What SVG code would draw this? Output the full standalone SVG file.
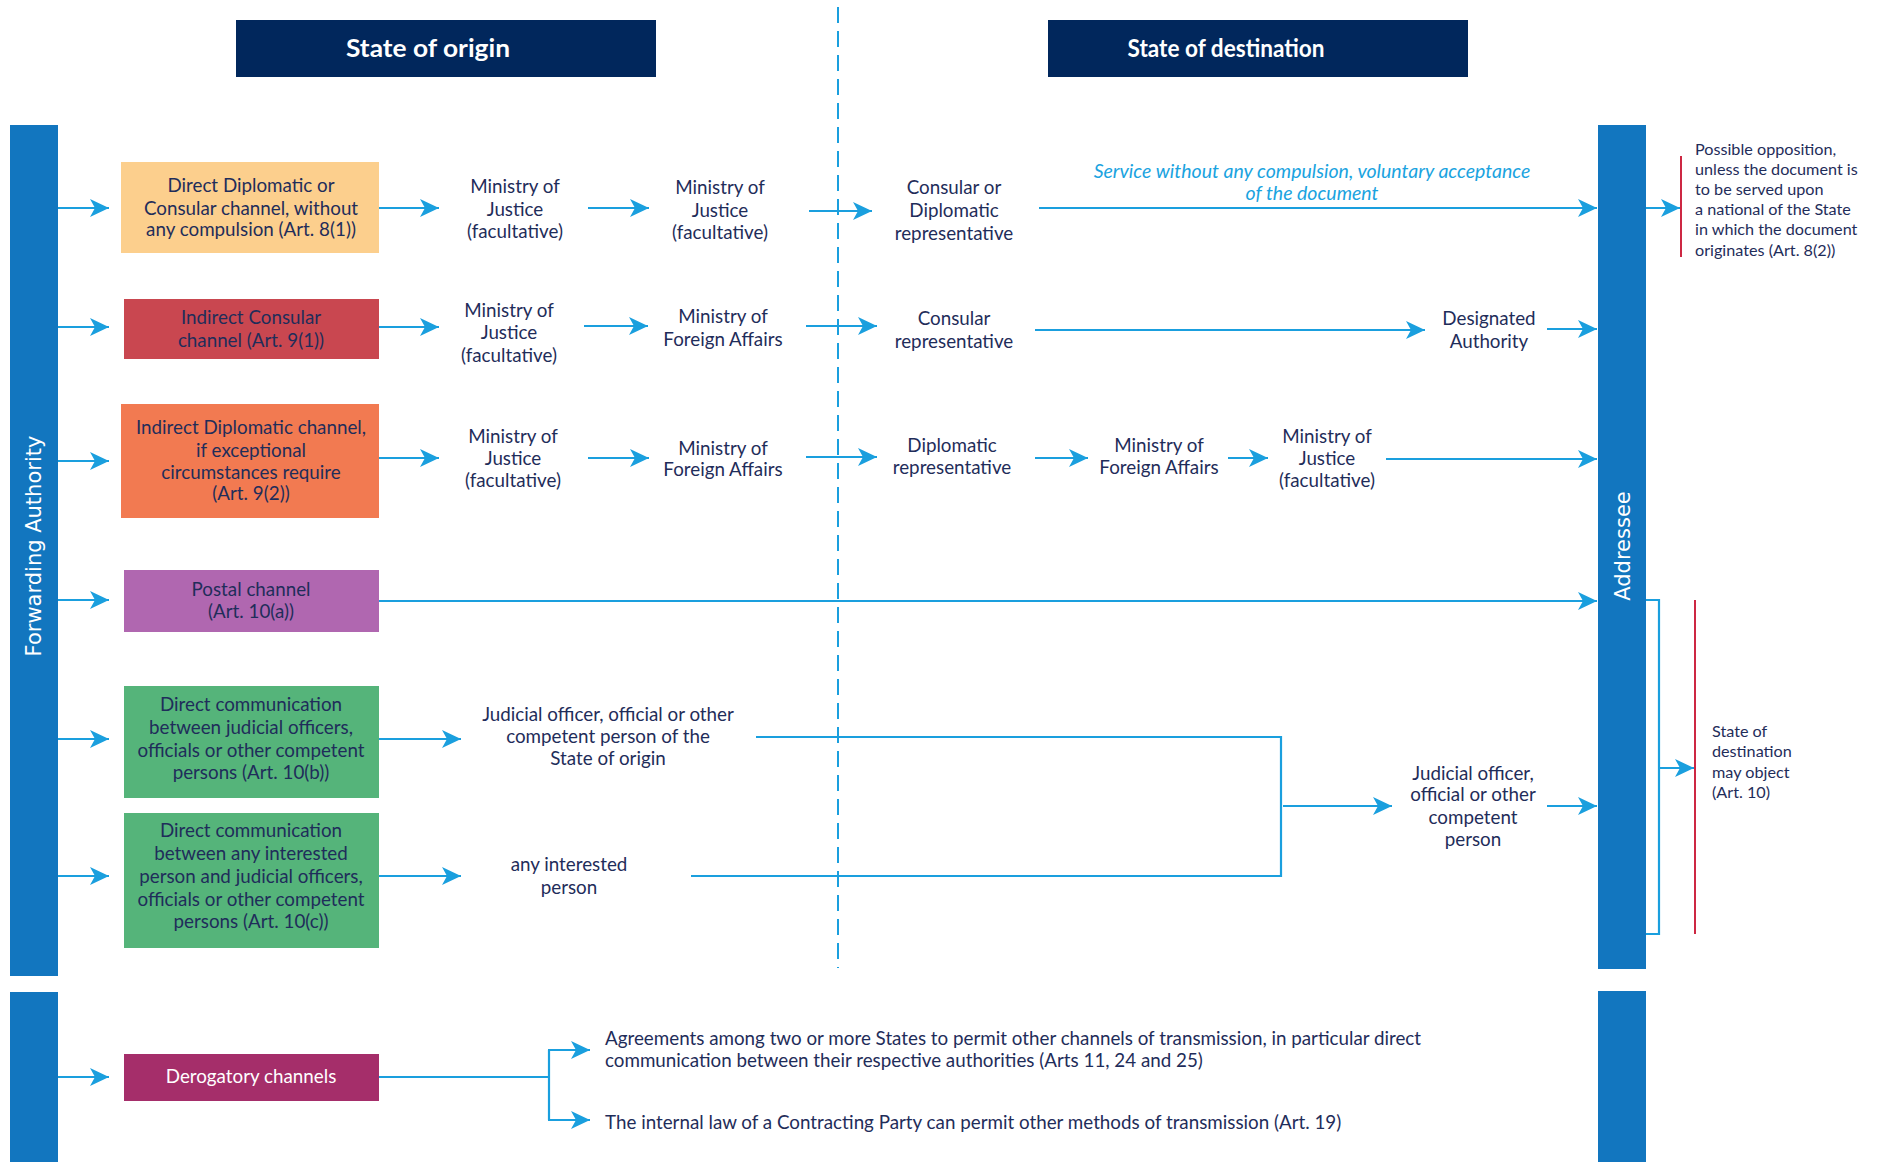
<svg xmlns="http://www.w3.org/2000/svg" width="1881" height="1162" viewBox="0 0 1881 1162">
<style>
  .t{font-family:Lato,"Liberation Sans",sans-serif;font-size:18.8px;fill:#1f2d5a;text-anchor:middle}
  .tl{font-family:Lato,"Liberation Sans",sans-serif;font-size:18.8px;fill:#1f2d5a}
  .ts{font-family:Lato,"Liberation Sans",sans-serif;font-size:16.2px;fill:#1f2d5a}
  .tw{font-family:Lato,"Liberation Sans",sans-serif;font-size:18.8px;fill:#ffffff;text-anchor:middle}
  .hd{font-family:Lato,"Liberation Sans",sans-serif;font-size:25px;font-weight:bold;fill:#ffffff;text-anchor:middle}
  .bar{fill:#1276bf}
  .bt{font-family:"DejaVu Sans","Liberation Sans",sans-serif;font-size:21px;fill:#ffffff;text-anchor:middle}
  .it{font-family:Lato,"Liberation Sans",sans-serif;font-size:19.5px;font-style:italic;fill:#1aa3e0;text-anchor:middle}
  .c{fill:none;stroke:#1a9fde;stroke-width:2.2}
  .a{fill:none;stroke:#1a9fde;stroke-width:2.2;marker-end:url(#ah)}
  .red{stroke:#c8102e;stroke-width:1.8}
</style>
<defs>
  <marker id="ah" markerUnits="userSpaceOnUse" markerWidth="20" markerHeight="18" refX="19" refY="9" orient="auto">
    <path d="M0,0 L19,9 L0,18 L5,9 z" fill="#1a9fde"/>
  </marker>
</defs>
<rect width="1881" height="1162" fill="#ffffff"/>

<g id="header-origin">
  <rect x="236" y="20" width="420" height="57" fill="#01275c"/>
  <text class="hd" x="428" y="57" textLength="164" lengthAdjust="spacingAndGlyphs">State of origin</text>
</g>
<g id="header-destination">
  <rect x="1048" y="20" width="420" height="57" fill="#01275c"/>
  <text class="hd" x="1226" y="57" textLength="197" lengthAdjust="spacingAndGlyphs">State of destination</text>
</g>

<line id="divider" x1="838" y1="7" x2="838" y2="968" stroke="#1a9fde" stroke-width="2" stroke-dasharray="16,8"/>

<g id="forwarding-authority">
  <rect class="bar" x="10" y="125" width="48" height="851"/>
  <text class="bt" transform="translate(41,546) rotate(-90)">Forwarding Authority</text>
</g>
<g id="forwarding-lower">
  <rect class="bar" x="10" y="992" width="48" height="170"/>
</g>
<g id="addressee">
  <rect class="bar" x="1598" y="125" width="48" height="844"/>
  <text class="bt" transform="translate(1630,546) rotate(-90)">Addressee</text>
</g>
<g id="addressee-lower">
  <rect class="bar" x="1598" y="991" width="48" height="171"/>
</g>

<g id="box-direct-diplomatic">
  <rect x="121" y="162" width="258" height="91" fill="#fccf8d"/>
  <text class="t" x="251" y="192">Direct Diplomatic or</text>
  <text class="t" x="251" y="215">Consular channel, without</text>
  <text class="t" x="251" y="236">any compulsion (Art. 8(1))</text>
</g>
<g id="box-indirect-consular">
  <rect x="124" y="299" width="255" height="60" fill="#c94750"/>
  <text class="t" x="251" y="324">Indirect Consular</text>
  <text class="t" x="251" y="347">channel (Art. 9(1))</text>
</g>
<g id="box-indirect-diplomatic">
  <rect x="121" y="404" width="258" height="114" fill="#f27a51"/>
  <text class="t" x="251" y="434">Indirect Diplomatic channel,</text>
  <text class="t" x="251" y="457">if exceptional</text>
  <text class="t" x="251" y="479">circumstances require</text>
  <text class="t" x="251" y="500">(Art. 9(2))</text>
</g>
<g id="box-postal">
  <rect x="124" y="570" width="255" height="62" fill="#b067b0"/>
  <text class="t" x="251" y="596">Postal channel</text>
  <text class="t" x="251" y="618">(Art. 10(a))</text>
</g>
<g id="box-direct-judicial">
  <rect x="124" y="686" width="255" height="112" fill="#55b47a"/>
  <text class="t" x="251" y="711">Direct communication</text>
  <text class="t" x="251" y="734">between judicial officers,</text>
  <text class="t" x="251" y="757">officials or other competent</text>
  <text class="t" x="251" y="779">persons (Art. 10(b))</text>
</g>
<g id="box-direct-interested">
  <rect x="124" y="813" width="255" height="135" fill="#55b47a"/>
  <text class="t" x="251" y="837">Direct communication</text>
  <text class="t" x="251" y="860">between any interested</text>
  <text class="t" x="251" y="883">person and judicial officers,</text>
  <text class="t" x="251" y="906">officials or other competent</text>
  <text class="t" x="251" y="928">persons (Art. 10(c))</text>
</g>
<g id="box-derogatory">
  <rect x="124" y="1054" width="255" height="47" fill="#a52e6a"/>
  <text class="tw" x="251" y="1083">Derogatory channels</text>
</g>

<g id="r1-moj-1"><text class="t" x="515" y="193">Ministry of</text><text class="t" x="515" y="216">Justice</text><text class="t" x="515" y="238">(facultative)</text></g>
<g id="r1-moj-2"><text class="t" x="720" y="194">Ministry of</text><text class="t" x="720" y="217">Justice</text><text class="t" x="720" y="239">(facultative)</text></g>
<g id="r1-consular-diplomatic"><text class="t" x="954" y="194">Consular or</text><text class="t" x="954" y="217">Diplomatic</text><text class="t" x="954" y="240">representative</text></g>
<g id="r1-service-label"><text class="it" x="1312" y="178">Service without any compulsion, voluntary acceptance</text><text class="it" x="1312" y="200">of the document</text></g>
<g id="note-opposition">
  <text class="ts" x="1695" y="155">Possible opposition,</text>
  <text class="ts" x="1695" y="175">unless the document is</text>
  <text class="ts" x="1695" y="195">to be served upon</text>
  <text class="ts" x="1695" y="215">a national of the State</text>
  <text class="ts" x="1695" y="235">in which the document</text>
  <text class="ts" x="1695" y="256">originates (Art. 8(2))</text>
</g>

<g id="r2-moj"><text class="t" x="509" y="317">Ministry of</text><text class="t" x="509" y="339">Justice</text><text class="t" x="509" y="362">(facultative)</text></g>
<g id="r2-mofa"><text class="t" x="723" y="323">Ministry of</text><text class="t" x="723" y="346">Foreign Affairs</text></g>
<g id="r2-consular"><text class="t" x="954" y="325">Consular</text><text class="t" x="954" y="348">representative</text></g>
<g id="r2-designated"><text class="t" x="1489" y="325">Designated</text><text class="t" x="1489" y="348">Authority</text></g>

<g id="r3-moj"><text class="t" x="513" y="443">Ministry of</text><text class="t" x="513" y="465">Justice</text><text class="t" x="513" y="487">(facultative)</text></g>
<g id="r3-mofa"><text class="t" x="723" y="455">Ministry of</text><text class="t" x="723" y="476">Foreign Affairs</text></g>
<g id="r3-diplomatic"><text class="t" x="952" y="452">Diplomatic</text><text class="t" x="952" y="474">representative</text></g>
<g id="r3-mofa-dest"><text class="t" x="1159" y="452">Ministry of</text><text class="t" x="1159" y="474">Foreign Affairs</text></g>
<g id="r3-moj-dest"><text class="t" x="1327" y="443">Ministry of</text><text class="t" x="1327" y="465">Justice</text><text class="t" x="1327" y="487">(facultative)</text></g>

<g id="r5-judicial-origin"><text class="t" x="608" y="721">Judicial officer, official or other</text><text class="t" x="608" y="743">competent person of the</text><text class="t" x="608" y="765">State of origin</text></g>
<g id="r6-interested"><text class="t" x="569" y="871">any interested</text><text class="t" x="569" y="894">person</text></g>
<g id="judicial-dest"><text class="t" x="1473" y="780">Judicial officer,</text><text class="t" x="1473" y="801">official or other</text><text class="t" x="1473" y="824">competent</text><text class="t" x="1473" y="846">person</text></g>
<g id="note-object">
  <text class="ts" x="1712" y="737">State of</text>
  <text class="ts" x="1712" y="757">destination</text>
  <text class="ts" x="1712" y="778">may object</text>
  <text class="ts" x="1712" y="798">(Art. 10)</text>
</g>
<g id="derog-agreements">
  <text class="tl" x="605" y="1045">Agreements among two or more States to permit other channels of transmission, in particular direct</text>
  <text class="tl" x="605" y="1067">communication between their respective authorities (Arts 11, 24 and 25)</text>
</g>
<g id="derog-internal"><text class="tl" x="605" y="1129">The internal law of a Contracting Party can permit other methods of transmission (Art. 19)</text></g>

<g id="connectors">
  <line class="a" x1="58" y1="208" x2="109" y2="208"/>
  <line class="a" x1="58" y1="327" x2="109" y2="327"/>
  <line class="a" x1="58" y1="461" x2="109" y2="461"/>
  <line class="a" x1="58" y1="600" x2="109" y2="600"/>
  <line class="a" x1="58" y1="739" x2="109" y2="739"/>
  <line class="a" x1="58" y1="876" x2="109" y2="876"/>
  <line class="a" x1="58" y1="1077" x2="109" y2="1077"/>

  <line class="a" x1="379" y1="208" x2="439" y2="208"/>
  <line class="a" x1="588" y1="208" x2="649" y2="208"/>
  <line class="a" x1="809" y1="211" x2="872" y2="211"/>
  <line class="a" x1="1039" y1="208" x2="1597" y2="208"/>
  <line class="a" x1="1646" y1="208" x2="1680" y2="208"/>

  <line class="a" x1="379" y1="327" x2="439" y2="327"/>
  <line class="a" x1="584" y1="326" x2="648" y2="326"/>
  <line class="a" x1="806" y1="326" x2="877" y2="326"/>
  <line class="a" x1="1035" y1="330" x2="1425" y2="330"/>
  <line class="a" x1="1547" y1="329" x2="1597" y2="329"/>

  <line class="a" x1="379" y1="458" x2="439" y2="458"/>
  <line class="a" x1="588" y1="458" x2="649" y2="458"/>
  <line class="a" x1="806" y1="457" x2="877" y2="457"/>
  <line class="a" x1="1035" y1="458" x2="1088" y2="458"/>
  <line class="a" x1="1228" y1="458" x2="1268" y2="458"/>
  <line class="a" x1="1386" y1="459" x2="1597" y2="459"/>

  <line class="a" x1="379" y1="601" x2="1597" y2="601"/>

  <line class="a" x1="379" y1="739" x2="461" y2="739"/>
  <line class="a" x1="379" y1="876" x2="461" y2="876"/>
  <polyline class="c" points="756,737 1281,737 1281,876 691,876"/>
  <line class="a" x1="1283" y1="806" x2="1392" y2="806"/>
  <line class="a" x1="1547" y1="806" x2="1597" y2="806"/>

  <polyline class="c" points="1646,600 1659,600 1659,934 1646,934"/>
  <line class="a" x1="1659" y1="768" x2="1694" y2="768"/>

  <line class="c" x1="379" y1="1077" x2="549" y2="1077"/>
  <line class="c" x1="549" y1="1050" x2="549" y2="1120"/>
  <line class="a" x1="548" y1="1050" x2="590" y2="1050"/>
  <line class="a" x1="548" y1="1120" x2="590" y2="1120"/>

  <line class="red" x1="1681" y1="156" x2="1681" y2="257"/>
  <line class="red" x1="1695" y1="600" x2="1695" y2="934"/>
</g>
</svg>
